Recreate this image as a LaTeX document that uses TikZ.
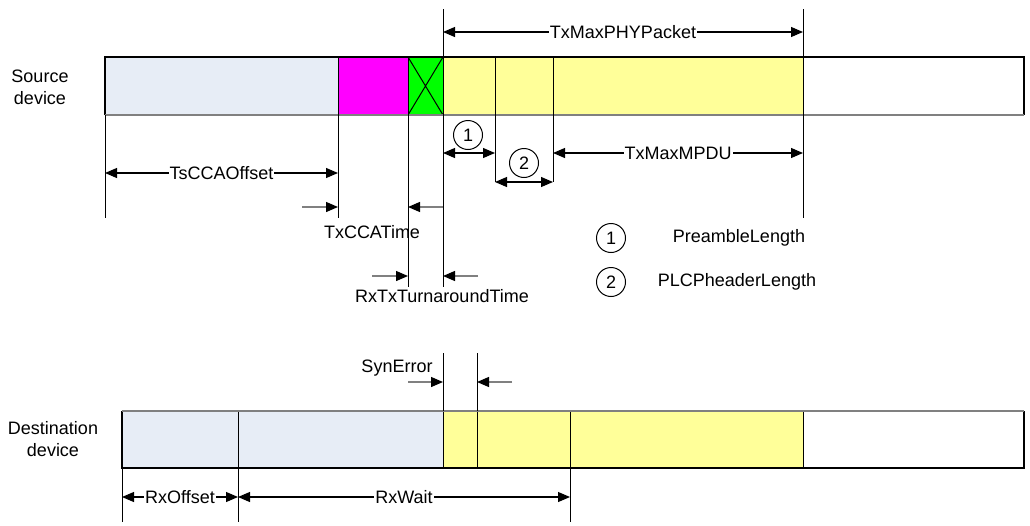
\documentclass[tikz,border=0pt]{standalone}
\usepackage{fontspec}
\setmainfont{Liberation Sans}
\usetikzlibrary{arrows.meta}
\definecolor{srcblue}{HTML}{E7EDF6}
\definecolor{pktyellow}{HTML}{FFFF99}
\definecolor{ccamag}{HTML}{FF00FF}
\definecolor{turngreen}{HTML}{00FF00}
\definecolor{edgegray}{HTML}{808080}
\begin{document}
\begin{tikzpicture}[x=1pt,y=-1pt,
  lbl/.style={font=\fontsize{18}{22}\selectfont, inner sep=1pt, align=center},
  onarrow/.style={lbl, fill=white},
  dimline/.style={{Triangle[length=12pt,width=10pt]}-{Triangle[length=12pt,width=10pt]}, line width=1.1pt},
  tipline/.style={-{Triangle[length=12pt,width=10pt,color=black]}, line width=1.3pt, draw=edgegray},
  extline/.style={line width=1pt},
  numcirc/.style={circle, draw, line width=1pt, minimum size=29pt, inner sep=0pt, font=\fontsize{18}{20}\selectfont}]
\useasboundingbox (0,0) rectangle (1030,525);

% ---------- Source bar ----------
\fill[srcblue] (105,57) rectangle (338,115);
\fill[ccamag] (338,57) rectangle (408,115);
\fill[turngreen] (408,57) rectangle (443,115);
\fill[pktyellow] (443,57) rectangle (803,115);
\draw[extline] (408,57) -- (443,115) (408,115) -- (443,57);
\draw[line width=1.2pt] (105,115) -- (105,57) -- (1024,57) -- (1024,115);
\draw[line width=1.2pt, edgegray] (105,115) -- (1024,115);

% extension / divider lines (source)
\draw[extline] (105,115) -- (105,218);
\draw[extline] (338,57) -- (338,218);
\draw[extline] (408,57) -- (408,287);
\draw[extline] (443,9) -- (443,287);
\draw[extline] (495,57) -- (495,182);
\draw[extline] (553,57) -- (553,182);
\draw[extline] (803,9) -- (803,218);

\node[lbl] (srclbl) at (40,87) {Source\\device};

% TxMaxPHYPacket
\coordinate (phyA) at (443,32);
\coordinate (phyB) at (803,32);
\draw[dimline] (phyA) -- (phyB) node[onarrow, midway] (phy) {TxMaxPHYPacket};

% TsCCAOffset
\coordinate (ccaoA) at (105,173);
\coordinate (ccaoB) at (338,173);
\draw[dimline] (ccaoA) -- (ccaoB) node[onarrow, midway] (ccao) {TsCCAOffset};

% TxCCATime
\coordinate (ccatA) at (302,207);
\coordinate (ccatB) at (338,207);
\coordinate (ccatC) at (443,207);
\coordinate (ccatD) at (408,207);
\draw[tipline] (ccatA) -- (ccatB);
\draw[tipline] (ccatC) -- (ccatD);
\node[lbl] (ccat) at (372,232) {TxCCATime};

% RxTxTurnaroundTime
\coordinate (rtA) at (372,276);
\coordinate (rtB) at (408,276);
\coordinate (rtC) at (478,276);
\coordinate (rtD) at (443,276);
\draw[tipline] (rtA) -- (rtB);
\draw[tipline] (rtC) -- (rtD);
\node[lbl] (rtt) at (442,296) {RxTxTurnaroundTime};

% Preamble (1)
\coordinate (preA) at (443,153);
\coordinate (preB) at (495,153);
\draw[dimline] (preA) -- (preB);
\node[numcirc] (c1) at (468,135) {1};

% PLCP header (2)
\coordinate (plcA) at (495,182);
\coordinate (plcB) at (553,182);
\draw[dimline] (plcA) -- (plcB);
\node[numcirc] (c2) at (524,163) {2};

% TxMaxMPDU
\coordinate (mpduA) at (553,153);
\coordinate (mpduB) at (803,153);
\draw[dimline] (mpduA) -- (mpduB) node[onarrow, midway] (mpdu) {TxMaxMPDU};

% Legend
\node[numcirc] (l1) at (611,238) {1};
\node[lbl] (l1t) at (739,238) {PreambleLength};
\node[numcirc] (l2) at (611,282) {2};
\node[lbl] (l2t) at (737,282) {PLCPheaderLength};

% ---------- Destination bar ----------
\fill[srcblue] (122,411) rectangle (443,468);
\fill[pktyellow] (443,411) rectangle (803,468);
\draw[extline] (238,411) -- (238,468);
\draw[extline] (443,411) -- (443,468);
\draw[extline] (477,411) -- (477,468);
\draw[extline] (570,411) -- (570,468);
\draw[extline] (803,411) -- (803,468);
\draw[line width=1.2pt] (122,411) -- (122,468) -- (1024,468) -- (1024,411);
\draw[line width=1.2pt, edgegray] (122,411) -- (1024,411);

\node[lbl] (dstlbl) at (53,439) {Destination\\device};

% SynError
\draw[extline] (443,353) -- (443,411);
\draw[extline] (477,353) -- (477,411);
\coordinate (synA) at (408,382);
\coordinate (synB) at (443,382);
\coordinate (synC) at (512,382);
\coordinate (synD) at (477,382);
\draw[tipline] (synA) -- (synB);
\draw[tipline] (synC) -- (synD);
\node[lbl] (syn) at (397,368) {SynError};

% below destination
\draw[extline] (122,468) -- (122,522);
\draw[extline] (238,468) -- (238,522);
\draw[extline] (570,468) -- (570,522);
\coordinate (rxoA) at (122,497);
\coordinate (rxoB) at (238,497);
\coordinate (rxwB) at (570,497);
\draw[dimline] (rxoA) -- (rxoB) node[onarrow, midway] (rxo) {RxOffset};
\draw[dimline] (rxoB) -- (rxwB) node[onarrow, midway] (rxw) {RxWait};
\end{tikzpicture}
\end{document}
